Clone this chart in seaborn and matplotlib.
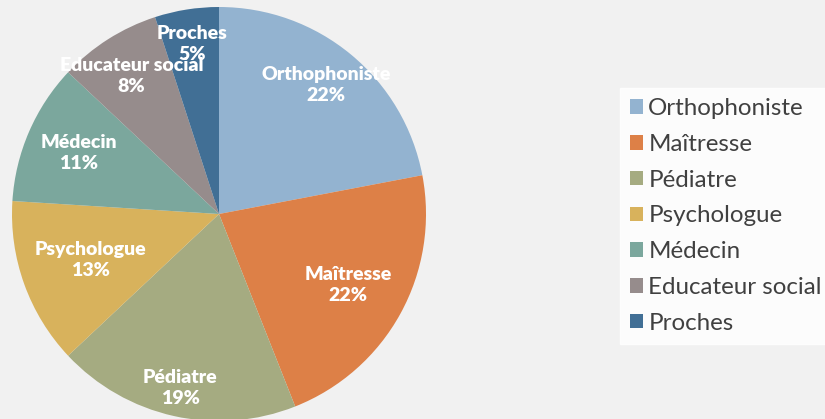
import matplotlib
matplotlib.use("Agg")
import matplotlib.pyplot as plt
import seaborn as sns
import numpy as np

categories = ["Orthophoniste", "Maîtresse", "Pédiatre", "Psychologue", "Médecin", "Educateur social", "Proches"]
values = [22, 22, 19, 13, 11, 8, 5]
pct_labels = ["22%", "22%", "19%", "13%", "11%", "8%", "5%"]
colors = ["#93b3d0", "#dd8047", "#a5ab81", "#d8b25c", "#7ba79d", "#968c8c", "#416f95"]
label_radius = [0.81, 0.71, 0.86, 0.66, 0.74, 0.79, 0.83]

sns.set_theme(style="white")
plt.rcParams['font.family'] = ['Lato', 'DejaVu Sans']

bg = "#f1f1f1"
fig = plt.figure(figsize=(8.25, 4.19), dpi=100, facecolor=bg)
ax = fig.add_axes([12/825, -2/419, 414/825, 414/419])
ax.set_facecolor(bg)

wedges, _ = ax.pie(values, colors=sns.color_palette(colors), startangle=90, counterclock=False,
                   radius=1.0, wedgeprops=dict(linewidth=0))
for w, name, pct, r in zip(wedges, categories, pct_labels, label_radius):
    ang = np.deg2rad((w.theta1 + w.theta2) / 2)
    x, y = r * np.cos(ang), r * np.sin(ang)
    ax.text(x, y, f"{name}\n{pct}", ha="center", va="center", color="white",
            fontsize=14, fontweight="heavy", linespacing=1.3)
ax.set_xlim(-1, 1)
ax.set_ylim(-1, 1)
ax.set_aspect("equal")
ax.axis("off")

leg = fig.legend(wedges, categories, loc="upper left", bbox_to_anchor=(620/825, 1 - 88/419),
                 frameon=True, fontsize=17.4, handlelength=0.55, handleheight=0.55,
                 handletextpad=0.2, labelspacing=0.61, borderpad=0.42, borderaxespad=0)
leg.get_frame().set_facecolor("white")
leg.get_frame().set_edgecolor("white")
leg.get_frame().set_boxstyle("square", pad=0)
for t in leg.get_texts():
    t.set_color("#404040")

fig.savefig("out.png", dpi=100, facecolor=bg)
